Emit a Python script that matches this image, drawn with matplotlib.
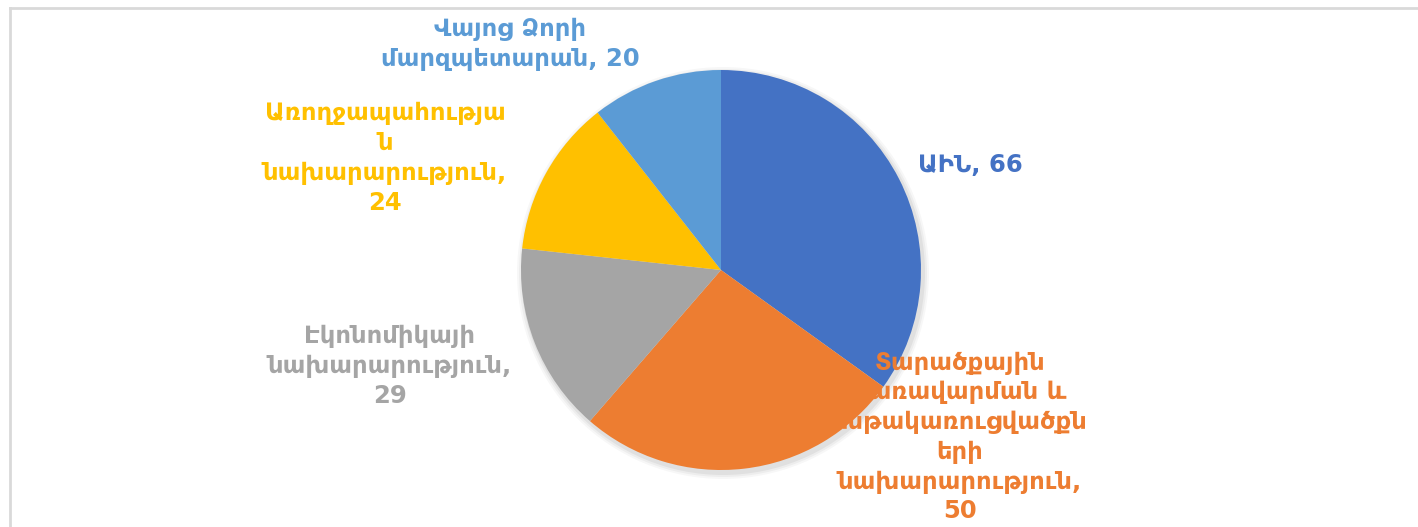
import matplotlib.pyplot as plt
from matplotlib.lines import Line2D

# data
labels = ["ԱԻՆ", "Տարածքային կառավարման և ենթակառուցվածքների նախարարություն",
          "Էկոնոմիկայի նախարարություն", "Առողջապահության նախարարություն",
          "Վայոց Ձորի մարզպետարան"]
values = [66, 50, 29, 24, 20]
colors = ["#4472C4", "#ED7D31", "#A5A5A5", "#FFC000", "#5B9BD5"]

# label text as wrapped in the chart
label_texts = [
    "ԱԻՆ, 66",
    "Տարածքային\nկառավարման և\nենթակառուցվածքն\nերի\nնախարարություն,\n50",
    "Էկոնոմիկայի\nնախարարություն,\n29",
    "Առողջապահությա\nն\nնախարարություն,\n24",
    "Վայոց Ձորի\nմարզպետարան, 20",
]
label_pos = [(970, 165), (960, 437), (390, 366), (385, 158), (510, 44)]

W, H = 1418, 527
fig = plt.figure(figsize=(W / 100, H / 100), dpi=100)
ax = fig.add_axes([0, 0, 1, 1])

# chart frame
fig.add_artist(Line2D([10 / W, 1], [1 - 8 / H, 1 - 8 / H], color="#d9d9d9", lw=2))
fig.add_artist(Line2D([10 / W, 10 / W], [0, 1 - 8 / H], color="#d9d9d9", lw=2))

cx, cy, r = 721, H - 270, 200

# soft shadow
for i, a in enumerate([0.05, 0.04, 0.03]):
    ax.add_patch(plt.Circle((cx + 2, cy - 3), r + 2 + i * 2, color="black", alpha=a, lw=0, zorder=0.8))

ax.pie(values, colors=colors, startangle=90, counterclock=False,
       center=(cx, cy), radius=r, frame=True,
       wedgeprops=dict(linewidth=0, zorder=1))
ax.set_xlim(0, W)
ax.set_ylim(0, H)
ax.set_aspect("equal")
ax.axis("off")

# labels sit on top of the wedges (orange text vanishes on the orange slice)
for txt, (x, y), c in zip(label_texts, label_pos, colors):
    ax.text(x, H - y, txt, color=c, fontsize=17.5, fontweight="bold",
            family="DejaVu Sans", ha="center", va="center",
            linespacing=1.3, zorder=3)

fig.savefig("out.png", dpi=100, facecolor="white")
